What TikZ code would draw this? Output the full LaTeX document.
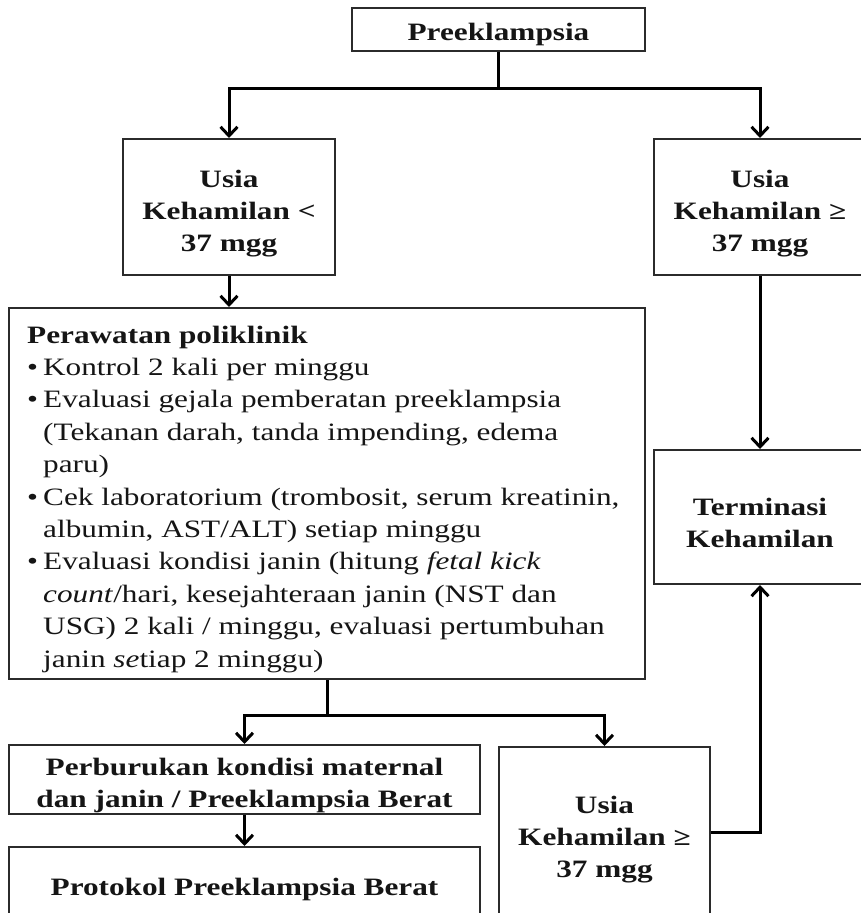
\documentclass[tikz,border=0pt]{standalone}
\usepackage{fontspec}
\setmainfont{Liberation Serif}[FakeStretch=1.25]
\usetikzlibrary{arrows.meta}
\definecolor{boxgray}{HTML}{2B2B2B}
\definecolor{inkgray}{HTML}{151515}
\newcommand\blt{\makebox[16pt][l]{•}}
\newcommand\ind{\hspace*{16pt}}
\begin{document}
\begin{tikzpicture}[x=1pt,y=-1pt,
  box/.style={draw=boxgray,line width=2pt,inner sep=0pt,rectangle},
  link/.style={draw=black,line width=3pt},
  arr/.style={link,-{Straight Barb[length=9pt,width=17pt,line width=3pt]}},
  lbl/.style={inner sep=0pt,anchor=base,text=inkgray,
              font=\bfseries\fontsize{25}{32}\selectfont},
  body/.style={inner sep=0pt,anchor=base west,text=inkgray,
              font=\fontsize{25}{32.4}\selectfont}]
  \fill[white] (0,0) rectangle (860,913);
  \useasboundingbox (0,0) rectangle (860,913);

  % boxes
  \node[box,minimum width=293pt,minimum height=43pt]  (pre)  at (498.5,29.5) {};
  \node[box,minimum width=212pt,minimum height=136pt] (lt)   at (229,207) {};
  \node[box,minimum width=212pt,minimum height=136pt] (rt)   at (760,207) {};
  \node[box,minimum width=636pt,minimum height=371pt] (poli) at (327,493.5) {};
  \node[box,minimum width=212pt,minimum height=134pt] (term) at (760,517) {};
  \node[box,minimum width=471pt,minimum height=69pt]  (perb) at (244.5,779.5) {};
  \node[box,minimum width=471pt,minimum height=78pt]  (prot) at (244.5,886) {};
  \node[box,minimum width=211pt,minimum height=178pt] (us2)  at (604.5,836) {};

  % labels
  \node[lbl] (preT) at (498.5,40) {Preeklampsia};
  \node[lbl] (ltT) at (229,187)
    {\begin{tabular}[t]{@{}c@{}}Usia\\Kehamilan <\\37 mgg\end{tabular}};
  \node[lbl] (rtT) at (760,187)
    {\begin{tabular}[t]{@{}c@{}}Usia\\Kehamilan ≥\\37 mgg\end{tabular}};
  \node[lbl] (termT) at (760,515)
    {\begin{tabular}[t]{@{}c@{}}Terminasi\\Kehamilan\end{tabular}};
  \node[lbl] (perbT) at (244.5,775)
    {\begin{tabular}[t]{@{}c@{}}Perburukan kondisi maternal\\dan janin / Preeklampsia Berat\end{tabular}};
  \node[lbl] (protT) at (244.5,895) {Protokol Preeklampsia Berat};
  \node[lbl] (us2T) at (604.5,813)
    {\begin{tabular}[t]{@{}c@{}}Usia\\Kehamilan ≥\\37 mgg\end{tabular}};
  \node[body] (poliT) at (27,343)
    {\begin{tabular}[t]{@{}l@{}}
      \textbf{Perawatan poliklinik}\\
      \blt Kontrol 2 kali per minggu\\
      \blt Evaluasi gejala pemberatan preeklampsia\\
      \ind (Tekanan darah, tanda impending, edema\\
      \ind paru)\\
      \blt Cek laboratorium (trombosit, serum kreatinin,\\
      \ind albumin, AST/ALT) setiap minggu\\
      \blt Evaluasi kondisi janin (hitung \textit{fetal kick}\\
      \ind \textit{count}/hari, kesejahteraan janin (NST dan\\
      \ind USG) 2 kali / minggu, evaluasi pertumbuhan\\
      \ind janin \textit{se}tiap 2 minggu)
    \end{tabular}};

  % connectors
  \coordinate (split1) at (498.5,88);
  \coordinate (split2) at (327,715);
  \draw[link] (pre.south) -- (split1);
  \draw[arr] (split1) -| (lt.north);
  \draw[arr] (split1) -| (rt.north);
  \draw[arr] (lt.south) -- (lt.south |- poli.north);
  \draw[arr] (rt.south) -- (term.north);
  \draw[link] (poli.south) -- (split2);
  \draw[arr] (split2) -| (perb.north);
  \draw[arr] (split2) -| (us2.north);
  \draw[arr] (perb.south) -- (prot.north);
  \draw[arr] ([yshift=4pt]us2.east) -| (term.south);
\end{tikzpicture}
\end{document}
